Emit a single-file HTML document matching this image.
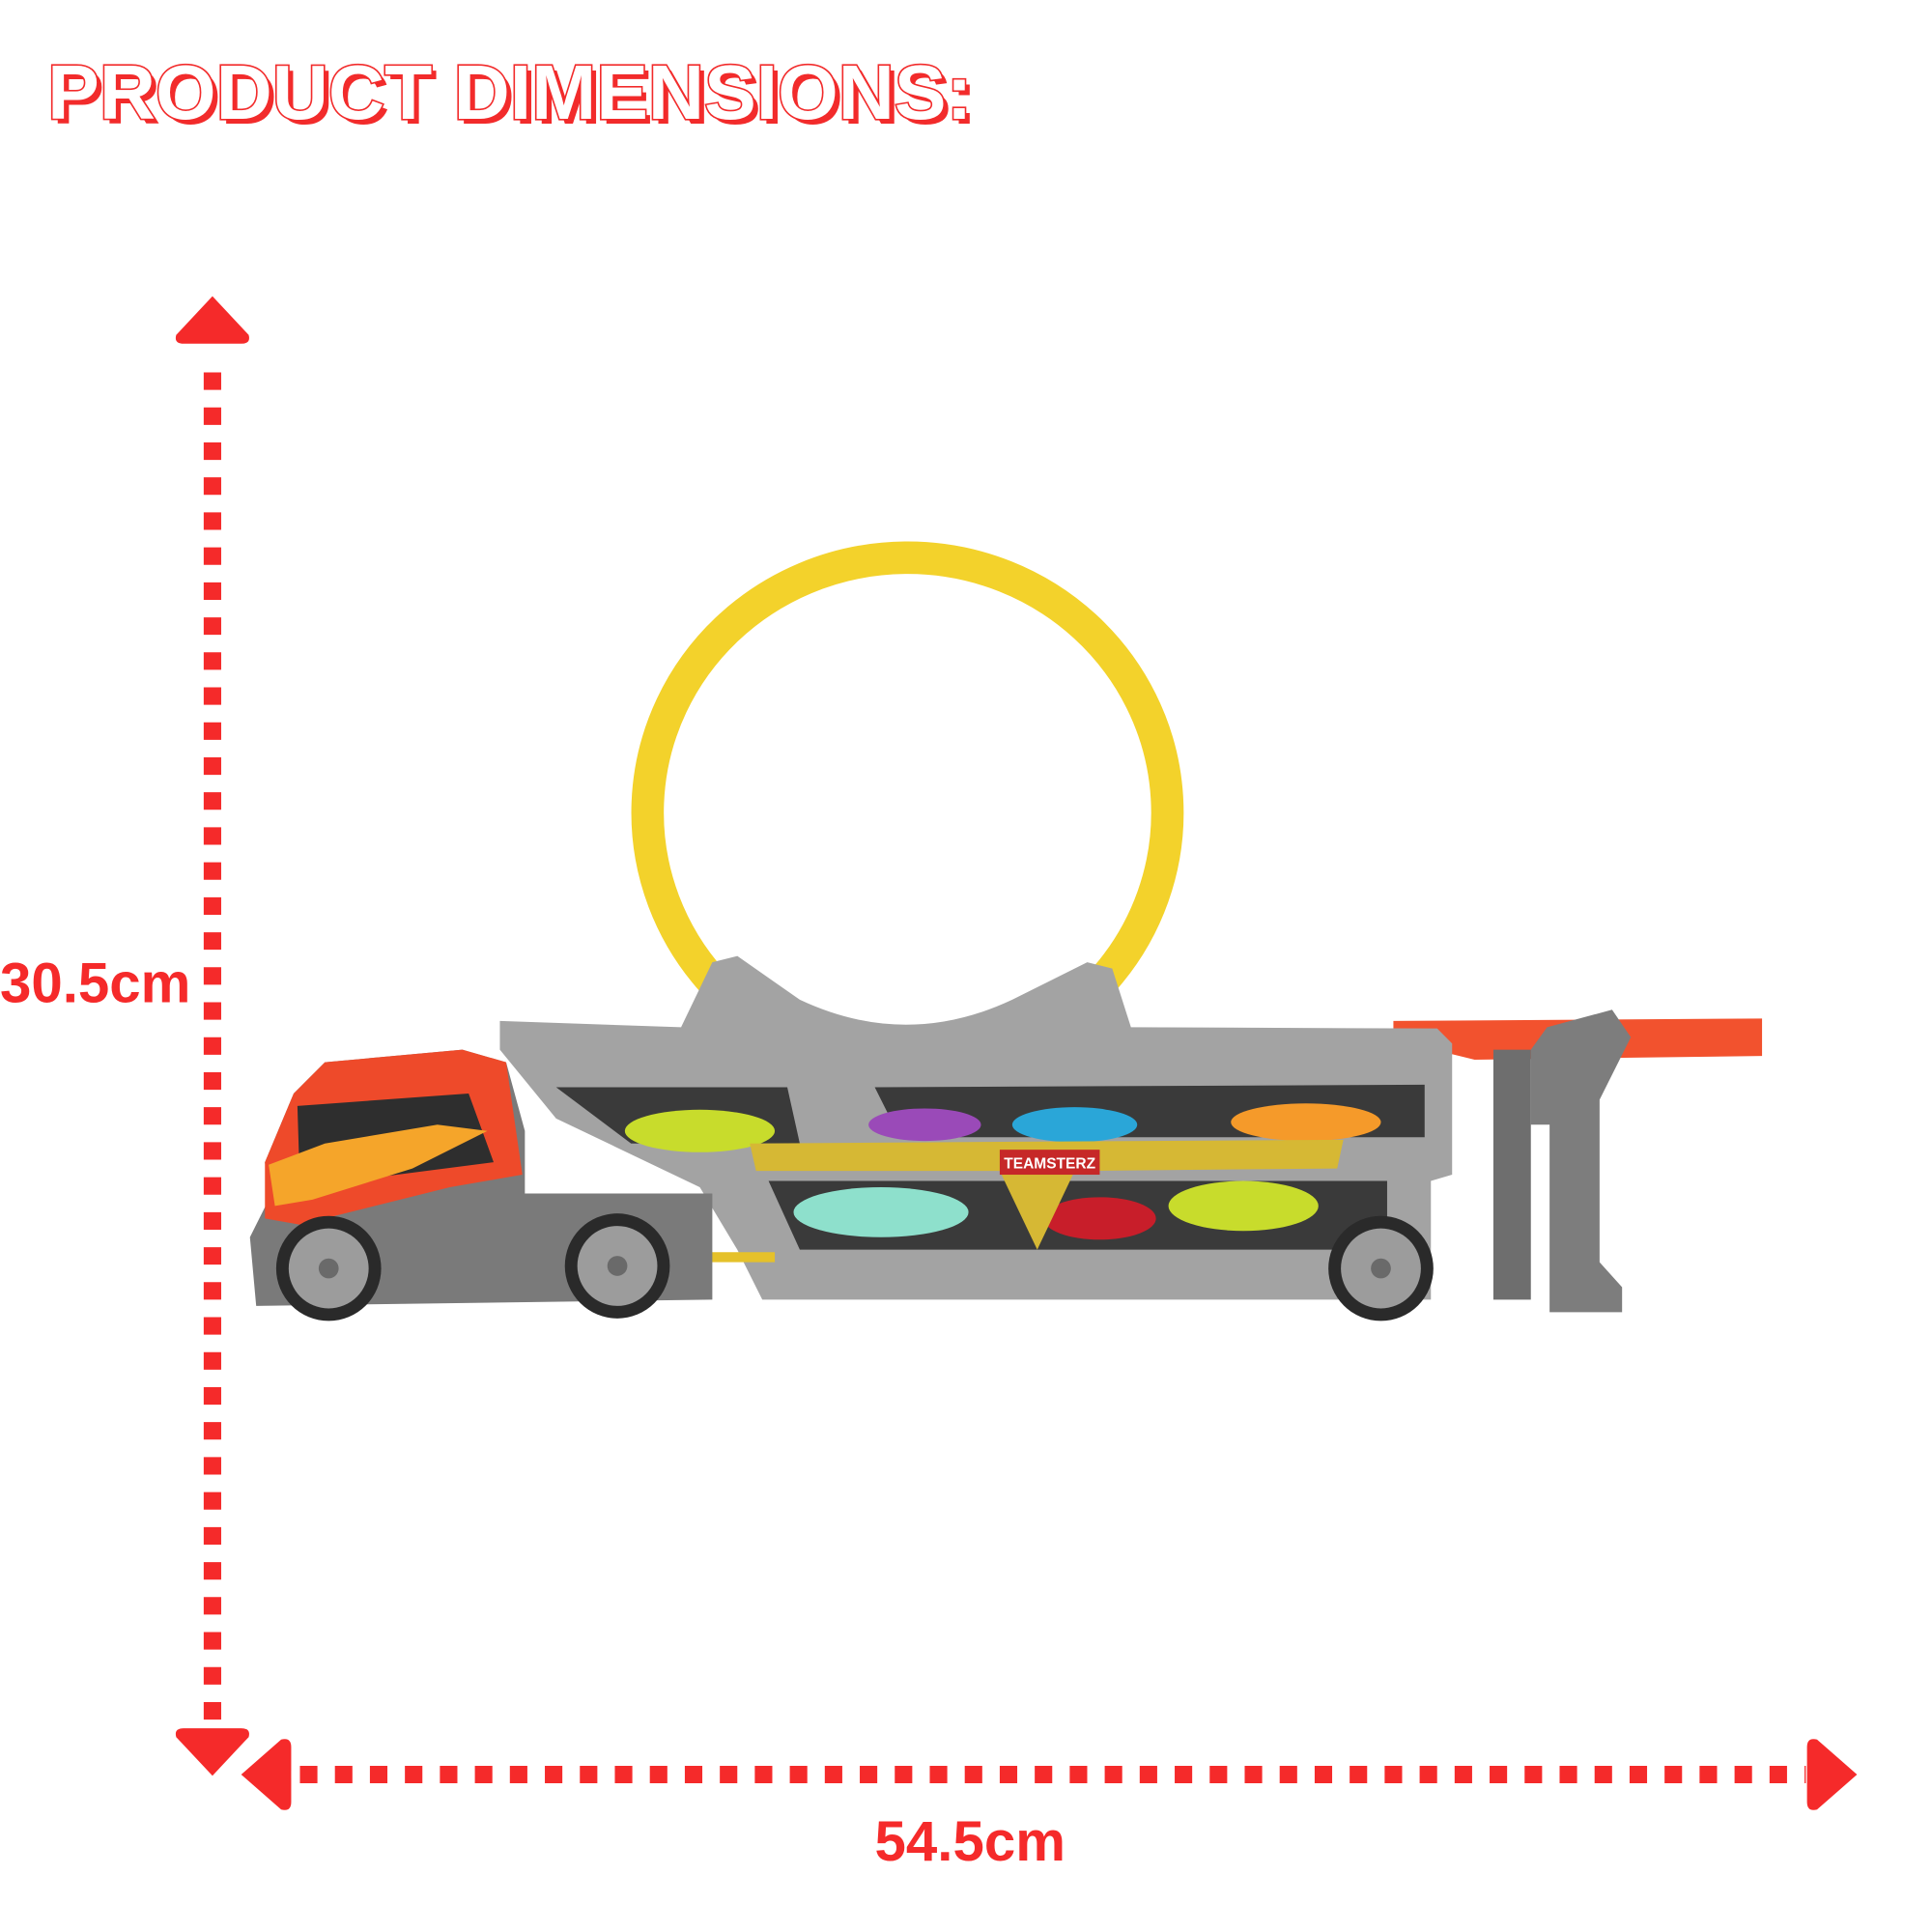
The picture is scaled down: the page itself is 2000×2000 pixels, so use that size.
<!DOCTYPE html>
<html><head><meta charset="utf-8"><style>html,body{margin:0;padding:0;background:#fff}svg{display:block}</style></head>
<body>
<svg width="2000" height="2000" viewBox="0 0 1546 1546" xmlns="http://www.w3.org/2000/svg">
<rect width="1546" height="1546" fill="#fff"/>
<!-- title -->
<g font-family="Liberation Sans, sans-serif" font-weight="bold" font-size="62">
<text x="42" y="99" textLength="740" lengthAdjust="spacingAndGlyphs" fill="#f22b2b">PRODUCT DIMENSIONS:</text>
<text x="38" y="95" textLength="740" lengthAdjust="spacingAndGlyphs" fill="#fff" stroke="#f22b2b" stroke-width="2.5" paint-order="stroke">PRODUCT DIMENSIONS:</text>
</g>
<!-- vertical dimension -->
<line x1="170" y1="298" x2="170" y2="1380" stroke="#f52a2a" stroke-width="14" stroke-dasharray="14 14"/>
<path d="M170 237 L199 268 Q201 275 193 275 L147 275 Q139 275 141 268 Z" fill="#f52a2a"/>
<path d="M170 1421 L199 1390 Q201 1383 193 1383 L147 1383 Q139 1383 141 1390 Z" fill="#f52a2a"/>
<!-- horizontal dimension -->
<line x1="240" y1="1420" x2="1445" y2="1420" stroke="#f52a2a" stroke-width="14" stroke-dasharray="14 14"/>
<path d="M193 1420 L225 1392 Q233 1390 233 1398 L233 1442 Q233 1450 225 1448 Z" fill="#f52a2a"/>
<path d="M1486 1420 L1454 1392 Q1446 1390 1446 1398 L1446 1442 Q1446 1450 1454 1448 Z" fill="#f52a2a"/>
<g font-family="Liberation Sans, sans-serif" font-weight="bold" fill="#f52a2a" font-size="45">
<text x="0" y="802">30.5cm</text>
<text x="700" y="1489">54.5cm</text>
</g>
<!-- loop -->
<path d="M570 785 A208 204 0 1 1 885 782" fill="none" stroke="#f3d22b" stroke-width="26"/>
<!-- orange ramp -->
<path d="M1115 817 L1410 815 L1410 845 L1180 848 L1115 832 Z" fill="#f2522e"/>
<!-- stand -->
<path d="M1238 822 L1290 808 L1305 830 L1280 880 L1280 1010 L1298 1030 L1298 1050 L1240 1050 L1240 900 L1225 900 L1225 840 Z" fill="#7d7d7d"/>
<rect x="1195" y="840" width="30" height="200" fill="#6e6e6e"/>
<!-- trailer body -->
<path d="M400 817 L545 822 L570 770 L590 765 L640 800 Q725 840 810 800 L870 770 L890 775 L905 822 L1150 823 L1162 835 L1162 940 L1145 945 L1145 1040 L610 1040 L590 1000 L560 950 L445 895 L400 840 Z" fill="#a3a3a3"/>
<!-- windows -->
<path d="M445 870 L505 915 L640 915 L630 870 Z" fill="#3a3a3a"/>
<path d="M700 870 L720 910 L1140 910 L1140 868 Z" fill="#3a3a3a"/>
<path d="M615 945 L640 1000 L1110 1000 L1110 945 Z" fill="#3a3a3a"/>
<!-- cars -->
<ellipse cx="560" cy="905" rx="60" ry="17" fill="#c8dc2c"/>
<ellipse cx="740" cy="900" rx="45" ry="13" fill="#9a4ab8"/>
<ellipse cx="860" cy="900" rx="50" ry="14" fill="#2aa6d8"/>
<ellipse cx="1045" cy="898" rx="60" ry="15" fill="#f59a2a"/>
<ellipse cx="705" cy="970" rx="70" ry="20" fill="#8ee0cc"/>
<ellipse cx="880" cy="975" rx="45" ry="17" fill="#c81e2a"/>
<ellipse cx="995" cy="965" rx="60" ry="20" fill="#c8dc2c"/>
<!-- hazard band -->
<path d="M600 915 L1075 912 L1070 935 L860 937 L830 1000 L800 937 L605 937 Z" fill="#d6b834"/>
<rect x="800" y="920" width="80" height="20" fill="#c62828"/>
<text x="840" y="935" font-family="Liberation Sans, sans-serif" font-weight="bold" font-size="12" fill="#fff" text-anchor="middle">TEAMSTERZ</text>
<!-- hitch -->
<rect x="560" y="1002" width="60" height="8" fill="#e5c12a"/>
<!-- cab -->
<path d="M235 875 L260 850 L370 840 L405 850 L420 905 L420 955 L570 955 L570 1040 L205 1045 L200 990 L215 960 L212 930 Z" fill="#7a7a7a"/>
<path d="M235 875 L260 850 L370 840 L405 850 L418 940 L360 950 L240 980 L212 975 L212 930 Z" fill="#ee4a2a"/>
<path d="M238 885 L375 875 L395 930 L240 950 Z" fill="#2e2e2e"/>
<path d="M215 932 L260 915 L350 900 L390 905 L330 935 L250 960 L220 965 Z" fill="#f5a52a"/>
<!-- wheels -->
<g fill="#2a2a2a"><circle cx="263" cy="1015" r="42"/><circle cx="494" cy="1013" r="42"/><circle cx="1105" cy="1015" r="42"/></g>
<g fill="#9c9c9c"><circle cx="263" cy="1015" r="32"/><circle cx="494" cy="1013" r="32"/><circle cx="1105" cy="1015" r="32"/></g>
<g fill="#6a6a6a"><circle cx="263" cy="1015" r="8"/><circle cx="494" cy="1013" r="8"/><circle cx="1105" cy="1015" r="8"/></g>
</svg>
</body></html>
